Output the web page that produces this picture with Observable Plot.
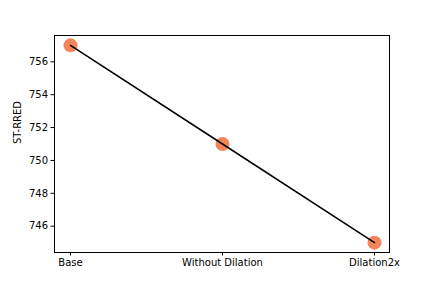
<!DOCTYPE html>
<html>
<head>
<meta charset="utf-8">
<script src="https://cdn.jsdelivr.net/npm/d3@7"></script>
<script src="https://cdn.jsdelivr.net/npm/@observablehq/plot@0.6"></script>
<style>
  html, body { margin: 0; padding: 0; background: #fff; }
  svg { font-family: "DejaVu Sans", sans-serif; }
</style>
</head>
<body>
<div id="chart"></div>
<script>
const categories = ["Base", "Without Dilation", "Dilation2x"];
const values = [757, 751, 745];
const yTicks = [746, 748, 750, 752, 754, 756];

const data = categories.map((c, i) => ({cat: c, v: values[i]}));

const chart = Plot.plot({
  width: 432,
  height: 288,
  marginLeft: 54,
  marginRight: 43,
  marginTop: 35,
  marginBottom: 36,
  style: {fontFamily: "DejaVu Sans, sans-serif", fontSize: "10px", color: "#000", background: "#fff"},
  x: {type: "point", domain: categories, padding: 0.1, label: null, tickSize: 3.5, tickPadding: 3.5},
  y: {domain: [744.4, 757.6], ticks: yTicks, label: null, tickSize: 3.5, tickPadding: 3.5},
  marks: [
    Plot.frame({stroke: "#000", strokeWidth: 1}),
    Plot.dot(data, {x: "cat", y: "v", r: 7, fill: "#f4845a", stroke: "none"}),
    Plot.line(data, {x: "cat", y: "v", stroke: "#000", strokeWidth: 1.5}),
    Plot.axisX({tickSize: 3.5, tickPadding: 3, fontSize: 10, label: null}),
    Plot.axisY({ticks: yTicks, tickSize: 3.5, tickPadding: 3, fontSize: 10, label: null}),
    Plot.text(["ST-RRED"], {frameAnchor: "left", dx: -37, rotate: -90, fontSize: 10, fill: "#000"})
  ]
});
document.getElementById("chart").appendChild(chart);
</script>
</body>
</html>
